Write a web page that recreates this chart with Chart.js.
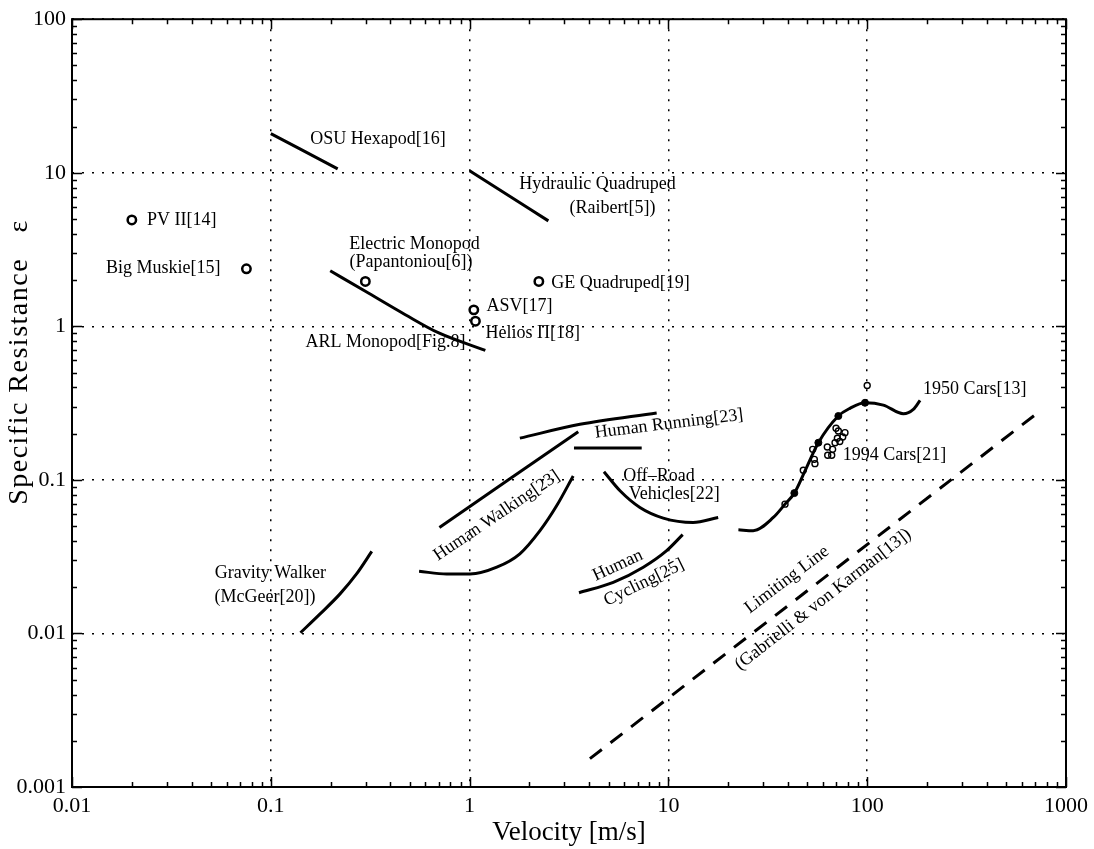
<!DOCTYPE html>
<html>
<head>
<meta charset="utf-8">
<script src="https://cdn.jsdelivr.net/npm/chart.js@4.4.0/dist/chart.umd.min.js"></script>
<style>
  body { margin: 0; background: #fff; }
  #wrap { width: 1094px; height: 849px; }
</style>
</head>
<body>
<div id="wrap"><canvas id="chart" width="1094" height="849"></canvas></div>
<script>
// tick labels
const xTickValues = [0.01, 0.1, 1, 10, 100, 1000];
const xTickLabels = ['0.01', '0.1', '1', '10', '100', '1000'];
const yTickValues = [0.001, 0.01, 0.1, 1, 10, 100];
const yTickLabels = ['0.001', '0.01', '0.1', '1', '10', '100'];

// curves (velocity m/s, specific resistance)
const osuV = [0.1, 0.217];
const osuE = [18.0, 10.6];
const hydV = [1.0, 2.49];
const hydE = [10.3, 4.86];
const arlV = [0.199, 0.299, 0.475, 0.70, 1.2];
const arlE = [2.30, 1.69, 1.19, 0.905, 0.698];
const runV = [1.79, 3.59, 8.73];
const runE = [0.187, 0.230, 0.273];
const runFlatV = [3.35, 7.34];
const runFlatE = [0.161, 0.161];
const walkUpV = [0.705, 3.52];
const walkUpE = [0.049, 0.206];
const walkV = [0.557, 0.767, 1.005, 1.37, 1.79, 2.26, 2.74, 3.32];
const walkE = [0.0254, 0.0244, 0.0244, 0.0270, 0.0330, 0.0467, 0.0678, 0.106];
const offRoadV = [4.74, 5.71, 7.19, 9.42, 13.3, 17.8];
const offRoadE = [0.113, 0.0849, 0.0661, 0.0564, 0.0528, 0.0569];
const cycleV = [3.55, 5.28, 7.48, 9.8, 11.8];
const cycleE = [0.0184, 0.0215, 0.0270, 0.0346, 0.0440];
const gravityV = [0.141, 0.177, 0.223, 0.270, 0.322];
const gravityE = [0.0101, 0.0134, 0.0181, 0.0244, 0.0342];
const cars50V = [22.5, 26.7, 33.7, 38.6, 43.0, 48.6, 56.8, 71.6, 81.9, 97.5, 120.5, 152, 170.6, 184.5];
const cars50E = [0.0473, 0.0467, 0.0569, 0.0695, 0.082, 0.114, 0.1746, 0.2606, 0.2924, 0.3178, 0.307, 0.2697, 0.2877, 0.3297];
const limitV = [4.03, 712];
const limitE = [0.00153, 0.270];

// points
const robotV = [0.02, 0.0754, 0.299, 1.05, 1.07, 2.23];
const robotE = [4.93, 2.37, 1.96, 1.28, 1.08, 1.96];
const cars50DotV = [43.0, 56.8, 71.6, 97.5];
const cars50DotE = [0.082, 0.1746, 0.2606, 0.3178];
const cars94V = [38.6, 47.7, 53.2, 54.2, 54.6, 63.0, 63.3, 66.3, 67.0, 68.9, 70.8, 69.7, 71.6, 72.8, 75.3, 77.3, 100];
const cars94E = [0.0695, 0.1156, 0.158, 0.136, 0.1276, 0.1637, 0.1446, 0.1446, 0.158, 0.1746, 0.1866, 0.2167, 0.208, 0.178, 0.190, 0.203, 0.412];

// text notes, anchored in data units
const notes = [
  { text: 'OSU Hexapod[16]', v: 0.346, e: 16.6, rot: 0 },
  { text: 'PV II[14]', v: 0.0356, e: 4.88, rot: 0 },
  { text: 'Big Muskie[15]', v: 0.0288, e: 2.38, rot: 0 },
  { text: 'Electric Monopod', v: 0.528, e: 3.41, rot: 0 },
  { text: '(Papantoniou[6])', v: 0.507, e: 2.60, rot: 0 },
  { text: 'ARL Monopod[Fig.8]', v: 0.378, e: 0.787, rot: 0 },
  { text: 'Hydraulic Quadruped', v: 4.40, e: 8.36, rot: 0 },
  { text: '(Raibert[5])', v: 5.23, e: 5.84, rot: 0 },
  { text: 'GE Quadruped[19]', v: 5.74, e: 1.90, rot: 0 },
  { text: 'ASV[17]', v: 1.78, e: 1.35, rot: 0 },
  { text: 'Helios Π[18]', v: 2.08, e: 0.90, rot: 0 },
  { text: '1950 Cars[13]', v: 348, e: 0.390, rot: 0 },
  { text: '1994 Cars[21]', v: 137, e: 0.145, rot: 0 },
  { text: 'Human Running[23]', v: 10.07, e: 0.231, rot: -7 },
  { text: 'Off\u2013Road', v: 8.97, e: 0.106, rot: 0 },
  { text: 'Vehicles[22]', v: 10.7, e: 0.081, rot: 0 },
  { text: 'Human Walking[23]', v: 1.37, e: 0.0584, rot: -34 },
  { text: 'Human', v: 5.57, e: 0.0277, rot: -25 },
  { text: 'Cycling[25]', v: 7.54, e: 0.0214, rot: -26 },
  { text: 'Gravity Walker', v: 0.0995, e: 0.0245, rot: 0 },
  { text: '(McGeer[20])', v: 0.0935, e: 0.0171, rot: 0 },
  { text: 'Limiting Line', v: 39.5, e: 0.0224, rot: -37 },
  { text: '(Gabrielli & von Karman[13])', v: 60, e: 0.0166, rot: -38 }
];

const FONT = "'Liberation Serif', 'DejaVu Serif', serif";
const pts = (vs, es) => vs.map((v, i) => ({ x: v, y: es[i] }));

function curve(vs, es, dash) {
  return {
    data: pts(vs, es),
    showLine: true,
    borderColor: '#000',
    borderWidth: 3,
    borderDash: dash || [],
    pointRadius: 0,
    cubicInterpolationMode: 'monotone',
    fill: false
  };
}

// inward ticks on all four sides plus the frame
const frameTicks = {
  id: 'frameTicks',
  beforeDatasetsDraw(chart) {
    const { ctx, chartArea: a, scales: { x, y } } = chart;
    ctx.save();
    ctx.strokeStyle = '#000';
    ctx.lineWidth = 1.5;
    ctx.beginPath();
    for (let p = -2; p <= 3; p++) {
      for (let m = 1; m <= 9; m++) {
        if (p === 3 && m > 1) break;
        const px = Math.round(x.getPixelForValue(m * Math.pow(10, p))) + 0.5;
        const len = m === 1 ? 10 : 5;
        ctx.moveTo(px, a.bottom); ctx.lineTo(px, a.bottom - len);
        ctx.moveTo(px, a.top); ctx.lineTo(px, a.top + len);
      }
    }
    for (let p = -3; p <= 2; p++) {
      for (let m = 1; m <= 9; m++) {
        if (p === 2 && m > 1) break;
        const py = Math.round(y.getPixelForValue(m * Math.pow(10, p))) + 0.5;
        const len = m === 1 ? 10 : 5;
        ctx.moveTo(a.left, py); ctx.lineTo(a.left + len, py);
        ctx.moveTo(a.right, py); ctx.lineTo(a.right - len, py);
      }
    }
    ctx.stroke();
    ctx.lineWidth = 2;
    ctx.strokeRect(a.left, a.top, a.right - a.left, a.bottom - a.top);
    ctx.restore();
  }
};

const noteText = {
  id: 'noteText',
  afterDatasetsDraw(chart) {
    const { ctx, scales: { x, y } } = chart;
    ctx.save();
    ctx.fillStyle = '#000';
    ctx.font = '18px ' + FONT;
    ctx.textAlign = 'center';
    ctx.textBaseline = 'middle';
    notes.forEach(n => {
      ctx.save();
      ctx.translate(x.getPixelForValue(n.v), y.getPixelForValue(n.e));
      ctx.rotate(n.rot * Math.PI / 180);
      ctx.fillText(n.text, 0, 0);
      ctx.restore();
    });
    // y axis title, sits a bit above the middle of the plot in the original
    ctx.font = '28px ' + FONT;
    ctx.letterSpacing = '1.5px';
    ctx.translate(20, 362);
    ctx.rotate(-Math.PI / 2);
    ctx.fillText('Specific Resistance   ε', 0, 0);
    ctx.restore();
  }
};

Chart.defaults.font.family = FONT;
Chart.defaults.color = '#000';

new Chart(document.getElementById('chart'), {
  type: 'scatter',
  data: {
    datasets: [
      curve(osuV, osuE),
      curve(hydV, hydE),
      curve(arlV, arlE),
      curve(runV, runE),
      curve(runFlatV, runFlatE),
      curve(walkUpV, walkUpE),
      curve(walkV, walkE),
      curve(offRoadV, offRoadE),
      curve(cycleV, cycleE),
      curve(gravityV, gravityE),
      curve(cars50V, cars50E),
      curve(limitV, limitE, [15, 11]),
      {
        data: pts(robotV, robotE),
        pointStyle: 'circle',
        pointRadius: 4.2,
        pointBorderWidth: 2.5,
        pointBorderColor: '#000',
        pointBackgroundColor: '#fff'
      },
      {
        data: pts(cars94V, cars94E),
        pointStyle: 'circle',
        pointRadius: 3,
        pointBorderWidth: 1.4,
        pointBorderColor: '#000',
        pointBackgroundColor: 'rgba(255,255,255,0)'
      },
      {
        data: pts(cars50DotV, cars50DotE),
        pointStyle: 'circle',
        pointRadius: 3.5,
        pointBorderWidth: 1,
        pointBorderColor: '#000',
        pointBackgroundColor: '#000'
      }
    ]
  },
  options: {
    responsive: false,
    devicePixelRatio: 1,
    animation: false,
    layout: { padding: { top: 17, right: 28, left: 0, bottom: 0 } },
    plugins: { legend: { display: false }, tooltip: { enabled: false } },
    scales: {
      x: {
        type: 'logarithmic',
        min: 0.01,
        max: 1000,
        afterBuildTicks: s => { s.ticks = xTickValues.map(v => ({ value: v })); },
        afterFit: s => { s.height = 62; },
        ticks: {
          callback: (v, i) => xTickLabels[i],
          font: { size: 22 },
          padding: 6,
          maxRotation: 0,
          autoSkip: false
        },
        grid: { color: '#000', lineWidth: 1.5, drawTicks: false },
        border: { display: false, dash: [2, 8] },
        title: {
          display: true,
          text: 'Velocity [m/s]',
          font: { size: 27 },
          padding: { top: 0, bottom: 0 }
        }
      },
      y: {
        type: 'logarithmic',
        min: 0.001,
        max: 100,
        afterBuildTicks: s => { s.ticks = yTickValues.map(v => ({ value: v })); },
        afterFit: s => { s.width = 72; },
        ticks: {
          callback: (v, i) => yTickLabels[i],
          font: { size: 22 },
          padding: 6,
          autoSkip: false
        },
        grid: { color: '#000', lineWidth: 1.5, drawTicks: false },
        border: { display: false, dash: [2, 8] },
        title: { display: false }
      }
    }
  },
  plugins: [frameTicks, noteText]
});
</script>
</body>
</html>
